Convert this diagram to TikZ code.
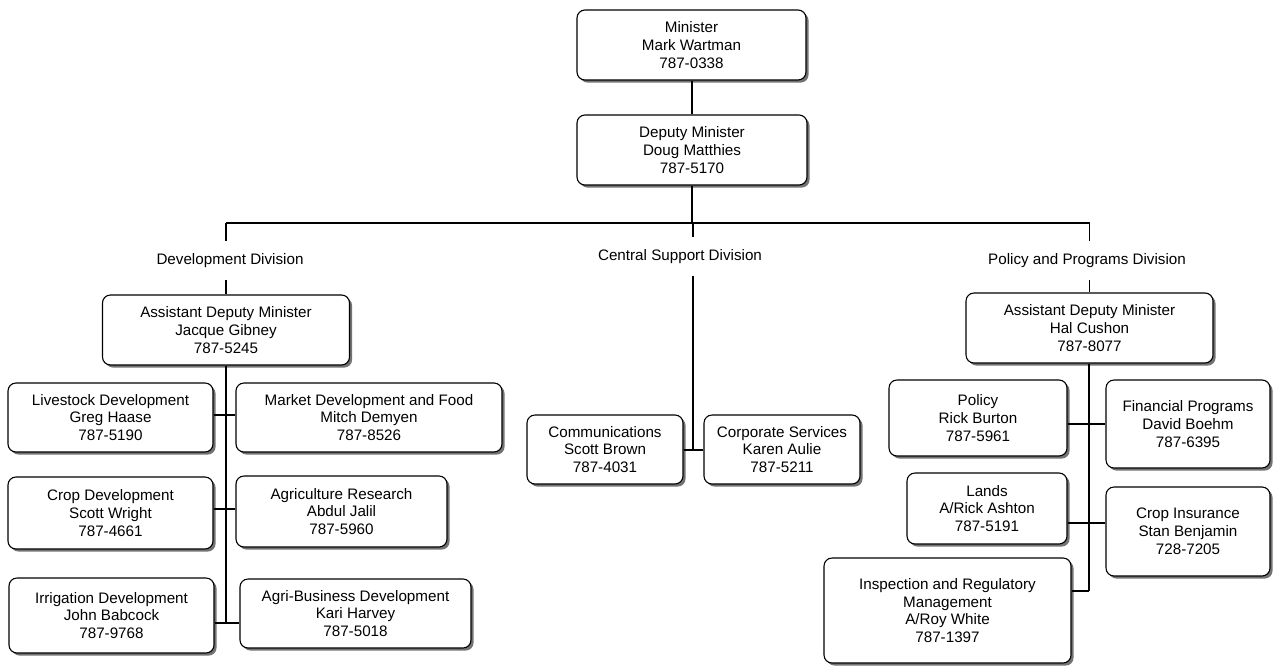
\documentclass[tikz,border=0pt]{standalone}
\usepackage{fontspec}
\setmainfont{Liberation Sans}
\usetikzlibrary{shadows}
\begin{document}
\begin{tikzpicture}[x=1pt,y=-1pt,line width=1.1pt,
  box/.style={draw,rounded corners=8pt,fill=white,align=center,inner sep=0pt,
    font=\fontsize{15.2}{17.8}\selectfont,
    drop shadow={shadow xshift=2.6pt,shadow yshift=-2.6pt,fill=black!55,opacity=1}},
  divlabel/.style={font=\fontsize{15.2}{17.8}\selectfont,inner sep=0pt,minimum height=37pt}]
  \useasboundingbox (0,0) rectangle (1274,665);
  % top
  \node[box,minimum width=229pt,minimum height=70pt] (minister) at (691.5,45) {Minister\\Mark Wartman\\787-0338};
  \node[box,minimum width=230pt,minimum height=70pt] (deputy) at (692,150) {Deputy Minister\\Doug Matthies\\787-5170};
  % divisions
  \node[divlabel] (devdiv) at (230,260.5) {Development Division};
  \node[divlabel] (cendiv) at (680,256.5) {Central Support Division};
  \node[divlabel] (poldiv) at (1087,260.5) {Policy and Programs Division};
  \node[box,minimum width=247pt,minimum height=70pt] (admdev) at (226,330) {Assistant Deputy Minister\\Jacque Gibney\\787-5245};
  \node[box,minimum width=247pt,minimum height=70pt] (admpol) at (1089.5,328) {Assistant Deputy Minister\\Hal Cushon\\787-8077};
  % development division
  \node[box,minimum width=205pt,minimum height=69pt] (livestock) at (110.5,417.5) {Livestock Development\\Greg Haase\\787-5190};
  \node[box,minimum width=266pt,minimum height=69pt] (market) at (369,417.5) {Market Development and Food\\Mitch Demyen\\787-8526};
  \node[box,minimum width=205pt,minimum height=72pt] (cropdev) at (110.5,513) {Crop Development\\Scott Wright\\787-4661};
  \node[box,minimum width=211pt,minimum height=71pt] (research) at (341.5,511.5) {Agriculture Research\\Abdul Jalil\\787-5960};
  \node[box,minimum width=205pt,minimum height=75pt] (irrigation) at (111.5,615.5) {Irrigation Development\\John Babcock\\787-9768};
  \node[box,minimum width=231pt,minimum height=69pt] (agribus) at (355.5,613.5) {Agri-Business Development\\Kari Harvey\\787-5018};
  % central support division
  \node[box,minimum width=156pt,minimum height=69pt] (comms) at (605,449.5) {Communications\\Scott Brown\\787-4031};
  \node[box,minimum width=156pt,minimum height=69pt] (corp) at (782,449.5) {Corporate Services\\Karen Aulie\\787-5211};
  % policy and programs division
  \node[box,minimum width=178pt,minimum height=76pt] (policy) at (978,418) {Policy\\Rick Burton\\787-5961};
  \node[box,minimum width=164pt,minimum height=88pt] (financial) at (1188,424) {Financial Programs\\David Boehm\\787-6395};
  \node[box,minimum width=160pt,minimum height=71pt] (lands) at (987,508.5) {Lands\\A/Rick Ashton\\787-5191};
  \node[box,minimum width=164pt,minimum height=89pt] (cropins) at (1188,531.5) {Crop Insurance\\Stan Benjamin\\728-7205};
  \node[box,minimum width=247pt,minimum height=105pt] (inspection) at (947.5,610.5) {Inspection and Regulatory\\Management\\A/Roy White\\787-1397};
  % junctions
  \coordinate (bus) at (693,223);
  \coordinate (dj1) at (226,415);
  \coordinate (dj2) at (226,509);
  \coordinate (dend) at (226,623);
  \coordinate (cj) at (693,450);
  \coordinate (pj1) at (1089,424);
  \coordinate (pj2) at (1089,523);
  \coordinate (pend) at (1089,591);
  % lines
  \draw (minister.south -| deputy) -- (deputy.north);
  \draw (deputy.south) -- (deputy.south |- bus);
  \draw (admdev.north |- bus) -- (admpol.north |- bus);
  \draw (admdev.north |- bus) -- (admdev.north |- devdiv.north);
  \draw (admdev.north |- devdiv.south) -- (admdev.north);
  \draw (admpol.north |- bus) -- (admpol.north |- poldiv.north);
  \draw (admpol.north |- poldiv.south) -- (admpol.north);
  \draw (bus) -- (bus |- cendiv.north);
  \draw (bus |- cendiv.south) -- (cj);
  \draw (comms.east |- cj) -- (corp.west |- cj);
  \draw (admdev.south -| dend) -- (dend);
  \draw (livestock.east |- dj1) -- (market.west |- dj1);
  \draw (cropdev.east |- dj2) -- (research.west |- dj2);
  \draw (irrigation.east |- dend) -- (agribus.west |- dend);
  \draw (admpol.south -| pend) -- (pend);
  \draw (policy.east |- pj1) -- (financial.west |- pj1);
  \draw (lands.east |- pj2) -- (cropins.west |- pj2);
  \draw (inspection.east |- pend) -- (pend);
\end{tikzpicture}
\end{document}
